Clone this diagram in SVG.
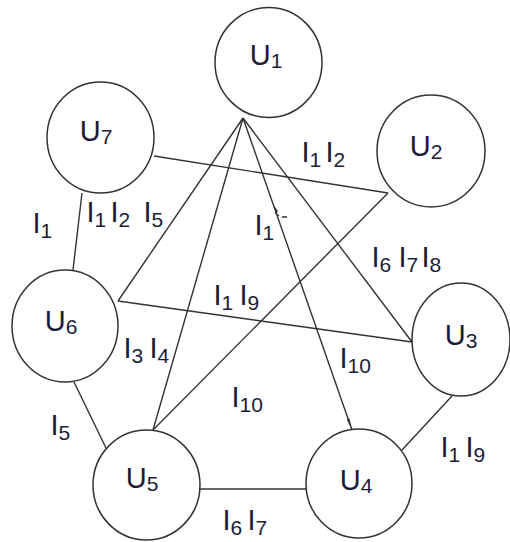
<svg xmlns="http://www.w3.org/2000/svg" width="510" height="542" viewBox="0 0 510 542">
<style>
.n{fill:none;stroke:#333;stroke-width:1.5}
.e{fill:none;stroke:#333;stroke-width:1.4}
.t{font-family:"Liberation Sans",Arial,sans-serif;font-size:29px;fill:#1c1c38}
.s{font-size:21px}
</style>
<defs>
<marker id="arr" markerUnits="userSpaceOnUse" markerWidth="13" markerHeight="4" refX="12" refY="2" orient="auto">
<path d="M0,0.6 L12,2 L0,3.4 z" fill="#333"/>
</marker>
</defs>
<rect width="510" height="542" fill="#fff"/>
<g id="connectors">
<line class="e" x1="82" y1="193" x2="73" y2="270"/>
<line class="e" x1="154" y1="156" x2="388" y2="193"/>
<line class="e" x1="388" y1="193" x2="153" y2="430"/>
<line class="e" x1="243" y1="118" x2="118" y2="301"/>
<line class="e" x1="243" y1="118" x2="153" y2="430"/>
<line class="e" x1="243" y1="118" x2="352" y2="430" marker-end="url(#arr)"/>
<line class="e" x1="243" y1="118" x2="412" y2="342"/>
<line class="e" x1="118" y1="301" x2="412" y2="342"/>
<line class="e" x1="74" y1="382" x2="106" y2="448"/>
<line class="e" x1="200" y1="489" x2="306" y2="489"/>
<line class="e" x1="452" y1="396" x2="402" y2="450"/>
<path class="e" stroke-width="1.2" d="M274,207 L277,211 L275.5,213 L279,216 M282,217 L287,217"/>
</g>
<g id="U1"><ellipse class="n" cx="268.5" cy="62.5" rx="53.5" ry="55"/><text class="t" x="249.7" y="65">U<tspan class="s" dy="3">1</tspan></text></g>
<g id="U2"><ellipse class="n" cx="431" cy="151" rx="54" ry="56"/><text class="t" x="409.7" y="156">U<tspan class="s" dy="3">2</tspan></text></g>
<g id="U3"><ellipse class="n" cx="461" cy="339.5" rx="49" ry="56.5"/><text class="t" x="444.7" y="345">U<tspan class="s" dy="3">3</tspan></text></g>
<g id="U4"><ellipse class="n" cx="359" cy="483.5" rx="53" ry="54.5"/><text class="t" x="339.7" y="490">U<tspan class="s" dy="3">4</tspan></text></g>
<g id="U5"><ellipse class="n" cx="146.5" cy="485" rx="53.5" ry="55"/><text class="t" x="125.7" y="488">U<tspan class="s" dy="3">5</tspan></text></g>
<g id="U6"><ellipse class="n" cx="65" cy="326" rx="53" ry="56"/><text class="t" x="44.7" y="331">U<tspan class="s" dy="3">6</tspan></text></g>
<g id="U7"><ellipse class="n" cx="100.5" cy="137.5" rx="53.5" ry="55.5"/><text class="t" x="79.7" y="141">U<tspan class="s" dy="3">7</tspan></text></g>
<g id="labels">
<text class="t" x="32.5" y="233">I<tspan class="s" dy="5">1</tspan></text>
<text class="t" x="86.5" y="222">I<tspan class="s" dy="5">1</tspan></text>
<text class="t" x="110.5" y="222">I<tspan class="s" dy="5">2</tspan></text>
<text class="t" x="143.5" y="222">I<tspan class="s" dy="5">5</tspan></text>
<text class="t" x="301.5" y="162">I<tspan class="s" dy="5">1</tspan></text>
<text class="t" x="325.5" y="162">I<tspan class="s" dy="5">2</tspan></text>
<text class="t" x="254.5" y="235">I<tspan class="s" dy="5">1</tspan></text>
<text class="t" x="371.5" y="267">I<tspan class="s" dy="5">6</tspan></text>
<text class="t" x="398.5" y="267">I<tspan class="s" dy="5">7</tspan></text>
<text class="t" x="421.5" y="267">I<tspan class="s" dy="5">8</tspan></text>
<text class="t" x="213.5" y="305">I<tspan class="s" dy="5">1</tspan></text>
<text class="t" x="239.5" y="305">I<tspan class="s" dy="5">9</tspan></text>
<text class="t" x="339.5" y="368">I<tspan class="s" dy="5">10</tspan></text>
<text class="t" x="231.5" y="407">I<tspan class="s" dy="5">10</tspan></text>
<text class="t" x="123.5" y="358">I<tspan class="s" dy="5">3</tspan></text>
<text class="t" x="149.5" y="358">I<tspan class="s" dy="5">4</tspan></text>
<text class="t" x="50.5" y="435">I<tspan class="s" dy="5">5</tspan></text>
<text class="t" x="440.5" y="457">I<tspan class="s" dy="5">1</tspan></text>
<text class="t" x="465.5" y="457">I<tspan class="s" dy="5">9</tspan></text>
<text class="t" x="222.5" y="530">I<tspan class="s" dy="5">6</tspan></text>
<text class="t" x="247.5" y="530">I<tspan class="s" dy="5">7</tspan></text>
</g>
</svg>
